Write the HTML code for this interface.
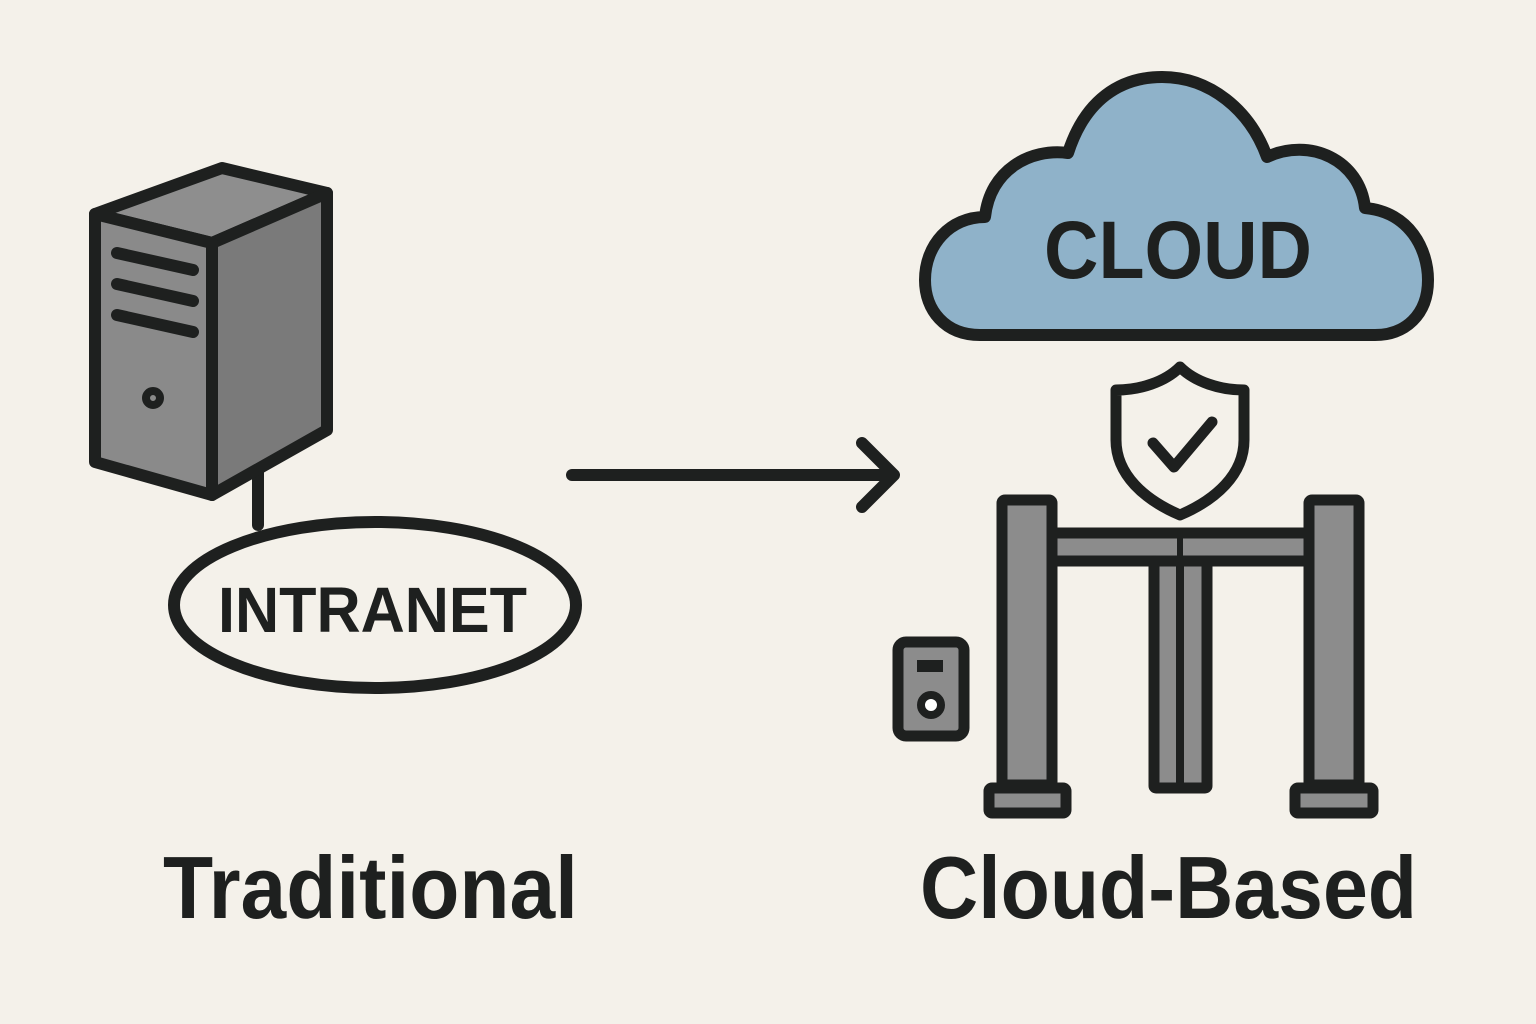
<!DOCTYPE html>
<html><head><meta charset="utf-8"><style>
html,body{margin:0;padding:0;background:#f4f1ea;}
svg{display:block}
text{font-family:"Liberation Sans",sans-serif;font-weight:bold;fill:#1e201f}
</style></head><body>
<svg width="1536" height="1024" viewBox="0 0 1536 1024" xmlns="http://www.w3.org/2000/svg">
<rect width="1536" height="1024" fill="#f4f1ea"/>
<g stroke="#1e201f" stroke-width="12" stroke-linejoin="round" stroke-linecap="round">
  <!-- server -->
  <line x1="258" y1="470" x2="258" y2="525"/>
  <polygon points="95,214 222,168 327,193 212,243" fill="#8e8e8e"/>
  <polygon points="212,243 327,193 327,430 212,495" fill="#7a7a7a"/>
  <polygon points="95,214 212,243 212,495 95,462" fill="#8a8a8a"/>
  <line x1="117" y1="253" x2="193" y2="270"/>
  <line x1="117" y1="284" x2="193" y2="301"/>
  <line x1="117" y1="315" x2="193" y2="332"/>
  <circle cx="153" cy="398" r="7" fill="#8a8a8a" stroke-width="8"/>
  <!-- ellipse -->
  <ellipse cx="375" cy="605" rx="201" ry="83" fill="none"/>
  <!-- arrow -->
  <line x1="572" y1="475" x2="890" y2="475"/>
  <polyline points="862,443 894,475 862,507" fill="none"/>
  <!-- cloud -->
  <path d="M985,217 C990,170 1030,148 1068,153 C1085,100 1120,77 1162,77 C1210,77 1250,110 1267,157 C1310,137 1360,160 1365,208 C1410,212 1428,250 1428,280 C1428,315 1405,335 1375,335 L980,335 C945,335 925,310 925,280 C925,245 950,217 985,217 Z" fill="#8fb2c9"/>
  <!-- shield -->
  <path d="M1180,367 C1165,382 1140,390 1116,390 L1116,440 C1116,475 1145,500 1180,515 C1215,500 1244,475 1244,440 L1244,390 C1220,390 1195,382 1180,367 Z" fill="none" stroke-width="11"/>
  <polyline points="1153,443 1174,467 1212,422" fill="none" stroke-width="11"/>
  <!-- gate -->
  <rect x="1051" y="533" width="259" height="28" fill="#8c8c8c" stroke-width="11"/>
  <line x1="1180" y1="533" x2="1180" y2="561" stroke-width="6"/>
  <rect x="1154" y="561" width="53" height="227" rx="2" fill="#8c8c8c" stroke-width="11"/>
  <line x1="1180" y1="561" x2="1180" y2="788" stroke-width="8"/>
  <rect x="1002" y="500" width="50" height="285" rx="3" fill="#8c8c8c" stroke-width="11"/>
  <rect x="1309" y="500" width="50" height="285" rx="3" fill="#8c8c8c" stroke-width="11"/>
  <rect x="989" y="788" width="77" height="25" rx="3" fill="#8c8c8c" stroke-width="11"/>
  <rect x="1295" y="788" width="78" height="25" rx="3" fill="#8c8c8c" stroke-width="11"/>
  <!-- device -->
  <rect x="898" y="642" width="66" height="94" rx="8" fill="#8c8c8c" stroke-width="11"/>
  <circle cx="931" cy="705" r="10" fill="#fff" stroke-width="8"/>
</g>
<rect x="917" y="660" width="26" height="12" fill="#1e201f"/>
<text x="1044" y="278" font-size="82" textLength="268" lengthAdjust="spacingAndGlyphs">CLOUD</text>
<text x="218" y="632" font-size="64" textLength="309" lengthAdjust="spacingAndGlyphs">INTRANET</text>
<text x="163" y="918" font-size="88" textLength="415" lengthAdjust="spacingAndGlyphs">Traditional</text>
<text x="920" y="918" font-size="88" textLength="497" lengthAdjust="spacingAndGlyphs">Cloud-Based</text>
</svg>
</body></html>
